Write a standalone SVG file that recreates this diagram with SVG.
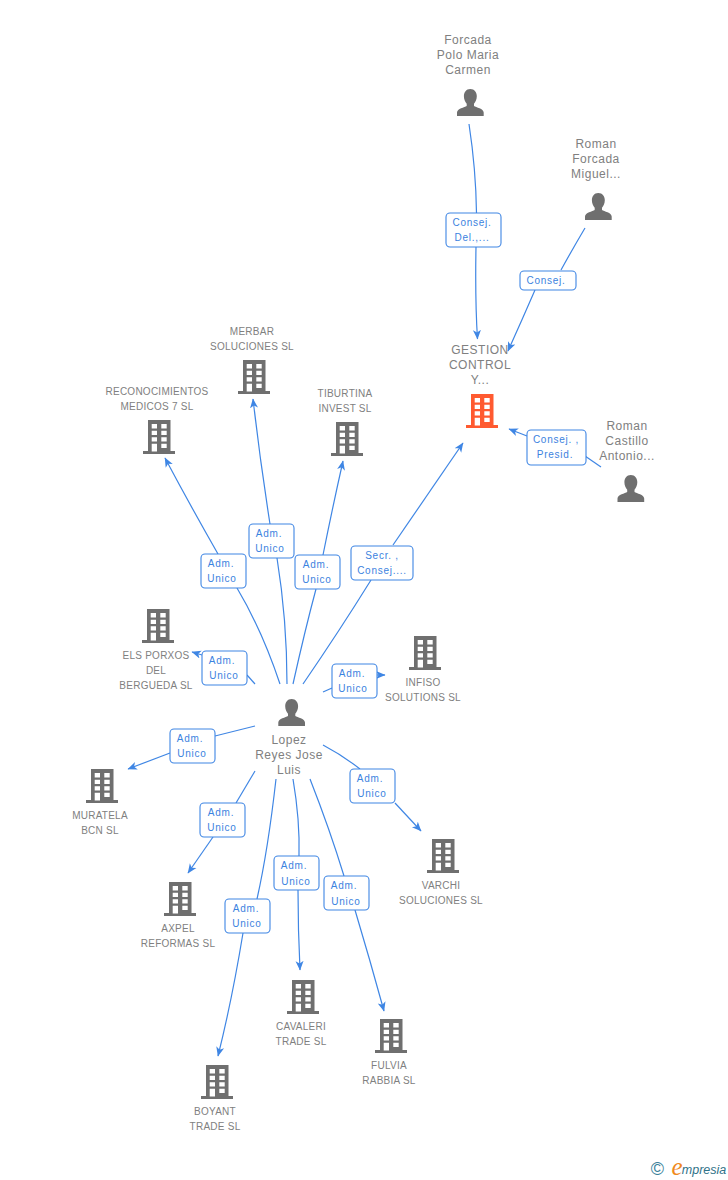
<svg xmlns="http://www.w3.org/2000/svg" width="728" height="1180" viewBox="0 0 728 1180">
<style>
text{font-family:"Liberation Sans",Arial,sans-serif;text-anchor:middle}
.c{font-size:10px;fill:#808080;letter-spacing:.25px}
.p{font-size:12px;fill:#808080;letter-spacing:.5px}
.l{font-size:10px;fill:#3b82e0;letter-spacing:.75px}
.e{fill:none;stroke:#3f86e4;stroke-width:1.2}
.b{fill:#fff;stroke:#3f86e4;stroke-width:1.1}
.g{fill:#6f6f6f}
.o{fill:#ff5a30}
</style>
<defs>
<marker id="a" markerWidth="12" markerHeight="10" refX="9" refY="4.5" orient="auto" markerUnits="userSpaceOnUse"><path d="M0 0.500L9.500 4.500L0 8.500L2.500 4.500Z" fill="#3f86e4"/></marker>
<path id="bld" fill-rule="evenodd" d="M5 0H27.500V31H32V34H0V31H5ZM8.700 4V8.400H14V4ZM18.300 4V8.400H23.700V4ZM8.700 10.700V15H14V10.700ZM18.300 10.700V15H23.700V10.700ZM8.700 17.300V21.600H14V17.300ZM18.300 17.300V21.600H23.700V17.300ZM8.700 23.700V31.500H14V23.700ZM18.300 23.700V28H23.700V23.700Z"/>
<path id="per" d="M13.300 0C17.500 0 19.800 3.300 19.800 7.300C19.800 10.600 18.500 13 17 14.800V17C19 18.500 26.700 19.500 26.700 23.500V27H0V23.500C0 19.500 7.700 18.500 9.700 17V14.800C8.200 13 6.900 10.600 6.900 7.300C6.900 3.300 9.100 0 13.300 0Z"/>
</defs>
<g id="connectors">
<path class="e" d="M469 124Q476 170 476.500 213"/><path class="e" d="M476 247Q475 300 477.500 339" marker-end="url(#a)"/>
<path class="e" d="M585 228Q572 250 561 270"/><path class="e" d="M535 290Q522 320 508 351" marker-end="url(#a)"/>
<path class="e" d="M601 467L585 456"/><path class="e" d="M527 436L509 429" marker-end="url(#a)"/>
<path class="e" d="M303 684Q340 630 371 580"/><path class="e" d="M393 545L463 443" marker-end="url(#a)"/>
<path class="e" d="M293 684Q305 630 316 589"/><path class="e" d="M323 555Q332 510 343 461" marker-end="url(#a)"/>
<path class="e" d="M287 684Q287 620 277 558"/><path class="e" d="M270 524Q260 460 253 399" marker-end="url(#a)"/>
<path class="e" d="M280 684Q262 630 237 588"/><path class="e" d="M218 554Q190 505 165 458" marker-end="url(#a)"/>
<path class="e" d="M255 684L247 675"/><path class="e" d="M202 655L192 652" marker-end="url(#a)"/>
<path class="e" d="M323 692L332 688"/><path class="e" d="M377 675L385 675" marker-end="url(#a)"/>
<path class="e" d="M255 726L215 736"/><path class="e" d="M170 753L128 769" marker-end="url(#a)"/>
<path class="e" d="M323 745Q342 755 360 769"/><path class="e" d="M395 803L421 831" marker-end="url(#a)"/>
<path class="e" d="M255 771L236 803"/><path class="e" d="M213 837L188 873" marker-end="url(#a)"/>
<path class="e" d="M276 779Q268 850 257 899"/><path class="e" d="M243 933Q232 1000 218 1056" marker-end="url(#a)"/>
<path class="e" d="M293 779Q300 820 299 856"/><path class="e" d="M298 890Q298 930 300 970" marker-end="url(#a)"/>
<path class="e" d="M310 779Q330 830 344 876"/><path class="e" d="M355 910Q370 960 384 1011" marker-end="url(#a)"/>
</g>
<g id="edge-labels">
<g><rect class="b" x="446" y="213" width="55" height="34" rx="4"/><text class="l" x="472" y="226">Consej.</text><text class="l" x="472" y="241">Del.,...</text></g>
<g><rect class="b" x="520" y="271" width="56" height="19" rx="4"/><text class="l" x="546" y="284">Consej.</text></g>
<g><rect class="b" x="527" y="430" width="59" height="35" rx="4"/><text class="l" x="556" y="443">Consej. ,</text><text class="l" x="555" y="458">Presid.</text></g>
<g><rect class="b" x="351" y="546" width="62" height="34" rx="4"/><text class="l" x="382" y="559">Secr. ,</text><text class="l" x="382" y="574">Consej....</text></g>
<g><rect class="b" x="295" y="555" width="45" height="34" rx="4"/><text class="l" x="316" y="568">Adm.</text><text class="l" x="317" y="583">Unico</text></g>
<g><rect class="b" x="249" y="524" width="45" height="34" rx="4"/><text class="l" x="269" y="537">Adm.</text><text class="l" x="270" y="552">Unico</text></g>
<g><rect class="b" x="201" y="554" width="45" height="34" rx="4"/><text class="l" x="221" y="567">Adm.</text><text class="l" x="222" y="582">Unico</text></g>
<g><rect class="b" x="202" y="651" width="45" height="34" rx="4"/><text class="l" x="222" y="664">Adm.</text><text class="l" x="224" y="679">Unico</text></g>
<g><rect class="b" x="332" y="664" width="45" height="34" rx="4"/><text class="l" x="352" y="677">Adm.</text><text class="l" x="353" y="692">Unico</text></g>
<g><rect class="b" x="170" y="729" width="45" height="34" rx="4"/><text class="l" x="190" y="742">Adm.</text><text class="l" x="192" y="757">Unico</text></g>
<g><rect class="b" x="350" y="769" width="45" height="34" rx="4"/><text class="l" x="370" y="782">Adm.</text><text class="l" x="372" y="797">Unico</text></g>
<g><rect class="b" x="200" y="803" width="45" height="34" rx="4"/><text class="l" x="221" y="816">Adm.</text><text class="l" x="222" y="831">Unico</text></g>
<g><rect class="b" x="274" y="856" width="45" height="34" rx="4"/><text class="l" x="294" y="869">Adm.</text><text class="l" x="296" y="885">Unico</text></g>
<g><rect class="b" x="324" y="876" width="45" height="34" rx="4"/><text class="l" x="344" y="889">Adm.</text><text class="l" x="346" y="905">Unico</text></g>
<g><rect class="b" x="225" y="899" width="45" height="34" rx="4"/><text class="l" x="246" y="912">Adm.</text><text class="l" x="247" y="927">Unico</text></g>
</g>
<g id="forcada"><text class="p" x="468" y="44">Forcada</text><text class="p" x="468" y="59">Polo Maria</text><text class="p" x="468" y="74">Carmen</text><use href="#per" class="g" x="457" y="89"/></g>
<g id="roman-forcada"><text class="p" x="596" y="148">Roman</text><text class="p" x="596" y="163">Forcada</text><text class="p" x="596" y="178">Miguel...</text><use href="#per" class="g" x="585" y="193"/></g>
<g id="gestion"><text class="p" x="480" y="354">GESTION</text><text class="p" x="480" y="369">CONTROL</text><text class="p" x="480" y="384">Y...</text><use href="#bld" class="o" x="466" y="394"/></g>
<g id="roman-castillo"><text class="p" x="627" y="430">Roman</text><text class="p" x="627" y="445">Castillo</text><text class="p" x="627" y="460">Antonio...</text><use href="#per" class="g" x="617.500" y="475"/></g>
<g id="merbar"><text class="c" x="252" y="335">MERBAR</text><text class="c" x="252" y="350">SOLUCIONES SL</text><use href="#bld" class="g" x="238" y="360"/></g>
<g id="reconocimientos"><text class="c" x="157" y="395">RECONOCIMIENTOS</text><text class="c" x="157" y="410">MEDICOS 7 SL</text><use href="#bld" class="g" x="143" y="420"/></g>
<g id="tiburtina"><text class="c" x="345" y="397">TIBURTINA</text><text class="c" x="345" y="412">INVEST SL</text><use href="#bld" class="g" x="331" y="422"/></g>
<g id="porxos"><use href="#bld" class="g" x="142" y="609"/><text class="c" x="156" y="659">ELS PORXOS</text><text class="c" x="156" y="674">DEL</text><text class="c" x="156" y="689">BERGUEDA SL</text></g>
<g id="infiso"><use href="#bld" class="g" x="409" y="636"/><text class="c" x="423" y="686">INFISO</text><text class="c" x="423" y="701">SOLUTIONS SL</text></g>
<g id="lopez"><use href="#per" class="g" x="278.300" y="699"/><text class="p" x="289" y="744">Lopez</text><text class="p" x="289" y="759">Reyes Jose</text><text class="p" x="289" y="774">Luis</text></g>
<g id="muratela"><use href="#bld" class="g" x="86" y="769"/><text class="c" x="100" y="819">MURATELA</text><text class="c" x="100" y="834">BCN SL</text></g>
<g id="axpel"><use href="#bld" class="g" x="164" y="882"/><text class="c" x="178" y="932">AXPEL</text><text class="c" x="178" y="947">REFORMAS SL</text></g>
<g id="varchi"><use href="#bld" class="g" x="427" y="839"/><text class="c" x="441" y="889">VARCHI</text><text class="c" x="441" y="904">SOLUCIONES SL</text></g>
<g id="cavaleri"><use href="#bld" class="g" x="287" y="980"/><text class="c" x="301" y="1030">CAVALERI</text><text class="c" x="301" y="1045">TRADE SL</text></g>
<g id="fulvia"><use href="#bld" class="g" x="375" y="1019"/><text class="c" x="389" y="1069">FULVIA</text><text class="c" x="389" y="1084">RABBIA  SL</text></g>
<g id="boyant"><use href="#bld" class="g" x="201" y="1065"/><text class="c" x="215" y="1115">BOYANT</text><text class="c" x="215" y="1130">TRADE SL</text></g>
<g id="credit"><text x="657.500" y="1175" style="font-size:18px;fill:#3a7f9a">©</text><text x="677" y="1175" style="font-size:25px;font-style:italic;fill:#f08a1d;font-family:'Liberation Serif',serif">e</text><text x="704" y="1174" style="font-size:12.500px;font-style:italic;fill:#2f7288">mpresia</text></g>
</svg>
